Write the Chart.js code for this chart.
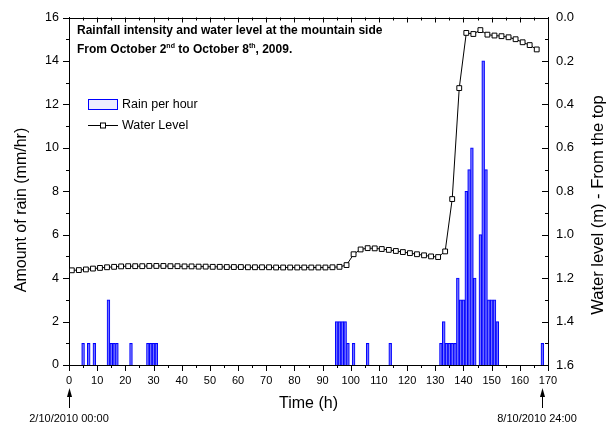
<!DOCTYPE html>
<html>
<head>
<meta charset="utf-8">
<script src="https://cdn.jsdelivr.net/npm/chart.js@4.4.1/dist/chart.umd.min.js"></script>
<style>
  html, body { margin: 0; padding: 0; background: #fff; }
  #wrap { width: 608px; height: 428px; }
</style>
</head>
<body>
<div id="wrap"><canvas id="rainChart" width="608" height="428"></canvas></div>
<script>
// hourly rain (mm/hr), only the hours that had rain
const rainHours = [5, 7, 9, 14, 15, 16, 17, 22, 28, 29, 30, 31,
  95, 96, 97, 98, 99, 101, 106, 114,
  132, 133, 134, 135, 136, 137, 138, 139, 140, 141, 142, 143, 144,
  146, 147, 148, 149, 150, 151, 152, 168];
const rainValues = [1, 1, 1, 3, 1, 1, 1, 1, 1, 1, 1, 1,
  2, 2, 2, 2, 1, 1, 1, 1,
  1, 2, 1, 1, 1, 1, 4, 3, 3, 8, 9, 10, 4,
  6, 14, 9, 3, 3, 3, 2, 1];

// water level (m from the top), logged readings
const levelHours = [1, 3.5, 6, 8.5, 11, 13.5, 16, 18.5, 21, 23.5, 26, 28.5, 31, 33.5, 36, 38.5,
  41, 43.5, 46, 48.5, 51, 53.5, 56, 58.5, 61, 63.5, 66, 68.5, 71, 73.5, 76, 78.5,
  81, 83.5, 86, 88.5, 91, 93.5, 96, 98.5, 101, 103.5, 106, 108.5, 111, 113.5, 116, 118.5,
  121, 123.5, 126, 128.5, 131, 133.5, 136, 138.5, 141, 143.5, 146, 148.5, 151, 153.5,
  156, 158.5, 161, 163.5, 166];
const levelValues = [1.164, 1.163, 1.160, 1.156, 1.153, 1.150, 1.148, 1.146, 1.145, 1.145, 1.145, 1.144, 1.144, 1.144, 1.145, 1.145,
  1.146, 1.146, 1.147, 1.147, 1.148, 1.148, 1.149, 1.149, 1.149, 1.150, 1.150, 1.150, 1.150, 1.151, 1.151, 1.151,
  1.151, 1.151, 1.151, 1.151, 1.151, 1.150, 1.148, 1.140, 1.090, 1.068, 1.062, 1.063, 1.066, 1.070, 1.075, 1.080,
  1.085, 1.090, 1.095, 1.100, 1.103, 1.077, 0.836, 0.325, 0.071, 0.076, 0.058, 0.079, 0.083, 0.086,
  0.091, 0.100, 0.114, 0.127, 0.147];

// tick labels
const timeTicks = [0, 10, 20, 30, 40, 50, 60, 70, 80, 90, 100, 110, 120, 130, 140, 150, 160, 170];
const rainTicks = [0, 2, 4, 6, 8, 10, 12, 14, 16];
const levelTicks = [0, 0.2, 0.4, 0.6, 0.8, 1.0, 1.2, 1.4, 1.6];

const FONT = 'Arial, "Liberation Sans", sans-serif';
const BLUE = '#0000ff';

// ticks, frame, titles, legend and date arrows (Origin style)
const chartFrame = {
  id: 'chartFrame',
  afterDraw(chart) {
    const { ctx, chartArea: a, scales } = chart;
    const sx = scales.x, sy = scales.y, sr = scales.y2;
    const px = v => Math.round(sx.getPixelForValue(v)) + 0.5;
    ctx.save();
    ctx.strokeStyle = '#000';
    ctx.lineWidth = 1;
    ctx.beginPath();
    ctx.moveTo(a.left, Math.round(a.top) + 0.5);
    ctx.lineTo(a.right, Math.round(a.top) + 0.5);
    // time ticks: bottom outward, top inward
    timeTicks.forEach((v, i) => {
      const p = px(v);
      ctx.moveTo(p, a.bottom); ctx.lineTo(p, a.bottom + 6);
      ctx.moveTo(p, a.top); ctx.lineTo(p, a.top + 5);
      if (i < timeTicks.length - 1) {
        const m = px((v + timeTicks[i + 1]) / 2);
        ctx.moveTo(m, a.bottom); ctx.lineTo(m, a.bottom + 3);
        ctx.moveTo(m, a.top); ctx.lineTo(m, a.top + 3);
      }
    });
    // rain ticks: left outward
    rainTicks.forEach((v, i) => {
      const p = Math.round(sy.getPixelForValue(v)) + 0.5;
      ctx.moveTo(a.left, p); ctx.lineTo(a.left - 6, p);
      if (i < rainTicks.length - 1) {
        const m = Math.round(sy.getPixelForValue((v + rainTicks[i + 1]) / 2)) + 0.5;
        ctx.moveTo(a.left, m); ctx.lineTo(a.left - 3, m);
      }
    });
    // level ticks: right inward
    levelTicks.forEach((v, i) => {
      const p = Math.round(sr.getPixelForValue(v)) + 0.5;
      ctx.moveTo(a.right, p); ctx.lineTo(a.right - 6, p);
      if (i < levelTicks.length - 1) {
        const m = Math.round(sr.getPixelForValue((v + levelTicks[i + 1]) / 2)) + 0.5;
        ctx.moveTo(a.right, m); ctx.lineTo(a.right - 3, m);
      }
    });
    ctx.stroke();

    // axis titles
    ctx.fillStyle = '#000';
    ctx.font = '16px ' + FONT;
    ctx.textAlign = 'center';
    ctx.textBaseline = 'middle';
    ctx.fillText('Time (h)', (a.left + a.right) / 2, 404);
    ctx.save();
    ctx.translate(22, 210);
    ctx.rotate(-Math.PI / 2);
    ctx.fillText('Amount of rain (mm/hr)', 0, 0);
    ctx.restore();
    ctx.save();
    ctx.font = '16.5px ' + FONT;
    ctx.translate(598, 205);
    ctx.rotate(-Math.PI / 2);
    ctx.fillText('Water level (m) - From the top', 0, 0);
    ctx.restore();

    // title inside the plot, with superscripts
    ctx.textAlign = 'left';
    ctx.textBaseline = 'alphabetic';
    ctx.font = 'bold 12px ' + FONT;
    ctx.fillText('Rainfall intensity and water level at the mountain side', 77, 34);
    const parts = [['From October 2', 0], ['nd', 1], [' to October 8', 0], ['th', 1], [', 2009.', 0]];
    let tx = 77;
    parts.forEach(([t, sup]) => {
      ctx.font = (sup ? 'bold 7px ' : 'bold 12px ') + FONT;
      ctx.fillText(t, tx, sup ? 48 : 53);
      tx += ctx.measureText(t).width;
    });

    // legend
    const bar = chart.data.datasets[1], line = chart.data.datasets[0];
    ctx.font = '12.5px ' + FONT;
    ctx.textBaseline = 'middle';
    ctx.fillStyle = 'rgba(225, 225, 255, 0.6)';
    ctx.fillRect(88, 99, 30, 10);
    ctx.strokeStyle = bar.borderColor;
    ctx.strokeRect(88.5, 99.5, 29, 10);
    ctx.fillStyle = '#000';
    ctx.fillText('Rain per hour', 122, 105);
    ctx.strokeStyle = line.borderColor;
    ctx.beginPath();
    ctx.moveTo(88, 125.5); ctx.lineTo(118, 125.5);
    ctx.stroke();
    ctx.fillStyle = '#fff';
    ctx.fillRect(100.5, 123, 5, 5);
    ctx.strokeRect(100.5, 123, 5, 5);
    ctx.fillStyle = '#000';
    ctx.fillText('Water Level', 122, 126);

    // start / end arrows with dates
    ctx.font = '11px ' + FONT;
    ctx.textAlign = 'center';
    [[0, '2/10/2010 00:00', 69], [168, '8/10/2010 24:00', 537]].forEach(([h, label, cx]) => {
      const p = px(h);
      ctx.beginPath();
      ctx.moveTo(p, 396); ctx.lineTo(p, 408);
      ctx.strokeStyle = '#000';
      ctx.stroke();
      ctx.beginPath();
      ctx.moveTo(p, 388); ctx.lineTo(p - 2.5, 397); ctx.lineTo(p + 2.5, 397);
      ctx.closePath();
      ctx.fill();
      ctx.fillText(label, cx, 419);
    });
    ctx.restore();
  }
};

const ctx = document.getElementById('rainChart').getContext('2d');
const rainChart = new Chart(ctx, {
  type: 'bar',
  data: {
    datasets: [{
      type: 'line',
      label: 'Water Level',
      data: levelHours.map((h, i) => ({ x: h, y: levelValues[i] })),
      yAxisID: 'y2',
      borderColor: '#000',
      borderWidth: 1,
      pointStyle: 'rect',
      pointRadius: 3.4,
      pointBackgroundColor: '#fff',
      pointBorderColor: '#000',
      pointBorderWidth: 1,
      tension: 0,
      order: 0
    }, {
      type: 'bar',
      label: 'Rain per hour',
      data: rainHours.map((h, i) => ({ x: h, y: rainValues[i] })),
      yAxisID: 'y',
      backgroundColor: 'rgba(200, 200, 255, 0.45)',
      borderColor: BLUE,
      borderWidth: 1,
      barPercentage: 1,
      categoryPercentage: 1,
      order: 1
    }]
  },
  options: {
    responsive: false,
    animation: false,
    layout: { padding: { top: 13, left: 0, right: 0, bottom: 0 } },
    plugins: { legend: { display: false }, tooltip: { enabled: false } },
    scales: {
      x: {
        type: 'linear',
        min: 0, max: 170,
        offset: false,
        afterBuildTicks: s => { s.ticks = timeTicks.map(v => ({ value: v })); },
        afterFit: s => { s.height = 63; },
        grid: { display: false, offset: false, drawTicks: false },
        border: { display: true, color: '#000', width: 1 },
        ticks: { color: '#000', font: { family: FONT, size: 11 }, padding: 9, maxRotation: 0, autoSkip: false }
      },
      y: {
        position: 'left',
        min: 0, max: 16,
        afterBuildTicks: s => { s.ticks = rainTicks.map(v => ({ value: v })); },
        afterFit: s => { s.width = 69; },
        grid: { display: false, drawTicks: false },
        border: { display: true, color: '#000', width: 1 },
        ticks: { color: '#000', font: { family: FONT, size: 12.5 }, padding: 10 }
      },
      y2: {
        position: 'right',
        min: 0, max: 1.6,
        reverse: true,
        afterBuildTicks: s => { s.ticks = levelTicks.map(v => ({ value: v })); },
        afterFit: s => { s.width = 60; },
        grid: { display: false, drawTicks: false },
        border: { display: true, color: '#000', width: 1 },
        ticks: { color: '#000', font: { family: FONT, size: 13 }, padding: 8, callback: v => v.toFixed(1) }
      }
    }
  },
  plugins: [chartFrame]
});
</script>
</body>
</html>
